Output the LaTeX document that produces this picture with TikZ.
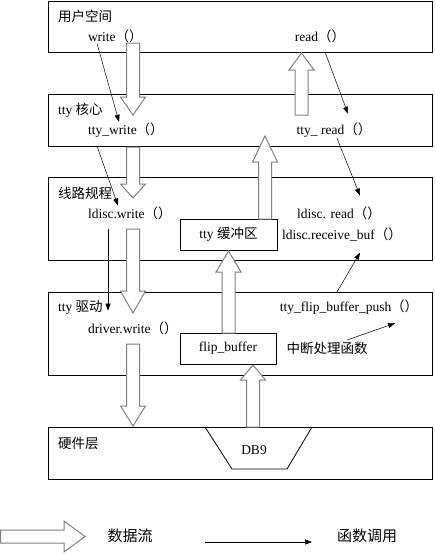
\documentclass[tikz,border=0pt]{standalone}
\usepackage{fontspec}
\setmainfont{Liberation Serif}
\newfontfamily\cjk{Noto Sans CJK SC}
\usepackage{tikz}
\usetikzlibrary{
	arrows.meta,
	positioning,
	}

\newcommand{\zh}[1]{{\cjk #1}}
\newcommand{\pp}{{\cjk （）}}
% data flow arrow: x, tail, head base, tip
\newcommand{\flowv}[4]{%
	\draw[flow] (#1-6.5,#2) -- (#1-6.5,#3) -- (#1-12.5,#3) -- (#1,#4) -- (#1+12.5,#3) -- (#1+6.5,#3) -- (#1+6.5,#2) -- cycle;}

\tikzset{
	layer/.style={draw, line width=0.8pt, minimum width=384pt, outer sep=0pt, inner sep=0pt},
	buf/.style={draw, fill=white, line width=0.8pt, minimum width=97pt, minimum height=31pt, outer sep=0pt, font=\fontsize{13.5}{15}\selectfont},
	fn/.style={inner sep=1pt, outer sep=0pt, font=\fontsize{13.5}{15}\selectfont},
	tag/.style={inner sep=1pt, outer sep=0pt, anchor=west, font=\fontsize{13.5}{15}\selectfont},
	legend/.style={inner sep=1pt, font=\fontsize{15}{17}\selectfont},
	flow/.style={draw=gray, fill=white, line width=1pt, line join=miter},
	call/.style={-{Triangle[length=7pt,width=5pt]}, line width=0.5pt},
}

\begin{document}
\begin{tikzpicture}[x=1pt, y=-1pt]
			\useasboundingbox (0,0) rectangle (435,554);
			\node[layer, minimum height=51pt] (user) at (240,26.5) {};
			\node[layer, minimum height=52pt, below=42pt of user] (core) {};
			\node[layer, minimum height=83pt, below=31pt of core] (ldisc) {};
			\node[layer, minimum height=83pt, below=32pt of ldisc] (driver) {};
			\node[layer, minimum height=52pt, below=52pt of driver] (hw) {};
			\node[tag] (userlbl) at (57,16) {\zh{用户空间}};
			\node[tag] (corelbl) at (57,110) {tty \zh{核心}};
			\node[tag] (ldisclbl) at (57,193) {\zh{线路规程}};
			\node[tag] (driverlbl) at (57,307) {tty \zh{驱动}};
			\node[tag] (hwlbl) at (57,443) {\zh{硬件层}};
			\node[fn, anchor=west] (write) at (87,36) {write\pp};
			\node[fn] (read) at (320,36) {read\pp};
			\node[fn, anchor=west] (ttywrite) at (87,130) {tty\_write\pp};
			\node[fn] (ttyread) at (334,130) {tty\_ read\pp};
			\node[fn, anchor=west] (ldwrite) at (87,213) {ldisc.write\pp};
			\node[fn] (ldread) at (339,213) {ldisc. read\pp};
			\node[fn] (rcvbuf) at (342,235) {ldisc.receive\_buf\pp};
			\node[fn, anchor=west] (drvwrite) at (87,328) {driver.write\pp};
			\node[fn] (flippush) at (349,307) {tty\_flip\_buffer\_push\pp};
			\node[tag, anchor=center] (irq) at (327,348) {\zh{中断处理函数}};
			\node[buf, anchor=north west] (ttybuf) at (180,219) {tty \zh{缓冲区}};
			\node[buf, anchor=north west, minimum width=96pt] (flipbuf) at (180,333) {flip\_buffer};
			\draw[line width=0.8pt] (205,427) -- (232,469) -- (287,469) -- (312,427);
			\node[fn] (db9) at (254,450) {DB9};
			% data flow
			\flowv{133}{43}{97}{115}
			\flowv{133}{147}{184}{198}
			\flowv{133}{229}{291}{313}
			\flowv{133}{344}{406}{426}
			\flowv{301.5}{115}{70}{53}
			\flowv{265}{219}{162}{136}
			\flowv{228.5}{333}{272}{251}
			\flowv{253}{427}{380}{365}
			% function calls
			\draw[call] ([xshift=10pt]write.south west) -- ([xshift=32pt]ttywrite.north west);
			\draw[call] ([xshift=10pt]ttywrite.west |- core.south) -- ([xshift=31pt]ldwrite.north west);
			\draw[call] ([xshift=21pt,yshift=-9pt]ldwrite.south west) -- ([xshift=21pt,yshift=10pt]drvwrite.north west);
			\draw[call] ([xshift=5pt]read.south |- user.south) -- ([xshift=14pt,yshift=8pt]ttyread.north);
			\draw[call] ([xshift=3pt]ttyread.south) -- ([xshift=21pt,yshift=10pt]ldread.north);
			\draw[call] ([xshift=-12pt]flippush.north |- driver.north) -- ([xshift=18pt,yshift=-10pt]rcvbuf.south);
			\draw[call] ([xshift=20pt,yshift=8pt]irq.center) -- ([xshift=46pt,yshift=-8pt]flippush.south);
			% legend
			\draw[flow] (0.5,530) -- (64,530) -- (64,521) -- (85,536.5) -- (64,552) -- (64,543) -- (0.5,543) -- cycle;
			\node[legend] (flowlbl) at (130,536) {\zh{数据流}};
			\coordinate (callA) at (205,542);
			\coordinate (callB) at (312,542);
			\draw[call] (callA) -- (callB);
			\node[legend] (calllbl) at (367,536) {\zh{函数调用}};
		\end{tikzpicture}
\end{document}
